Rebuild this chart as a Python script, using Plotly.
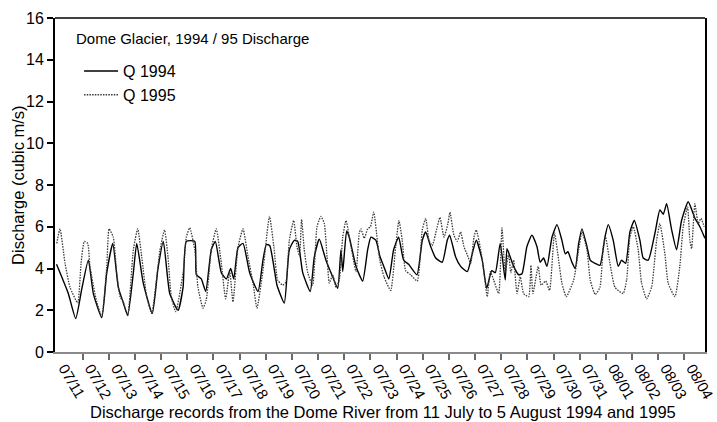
import plotly.graph_objects as go

# Hours since 11 July 00:00
t_1994 = [0, 10.8, 17.6, 23.1, 29.2, 33.8, 41.5, 46.1, 51.6, 56.7, 61.3, 65.3, 70.5, 73.6, 79.6, 87.9,
          93.1, 98.0, 103.9, 111.5, 116.1, 119.1, 126.8, 128.3, 132.8, 136.9, 142.0, 145.7, 151.2, 155.8,
          159.8, 162.6, 166.5, 171.1, 177.2, 184.9, 189.4, 192.5, 195.6, 200.0, 202.3, 209.0, 213.6, 218.2,
          221.3, 225.9, 232.8, 236.5, 241.1, 247.2, 253.4, 258.0, 261.0, 262.6, 266.2, 268.6, 274.8, 280.9,
          285.5, 288.5, 293.1, 296.6, 300.3, 304.9, 309.3, 313.9, 318.5, 323.1, 330.7, 335.6, 338.7, 343.3,
          347.9, 353.9, 358.5, 360.7, 366.2, 370.8, 376.9, 381.4, 385.1, 390.6, 394.7, 399.3, 402.6, 407.1,
          411.7, 413.3, 416.3, 419.4, 424.0, 427.1, 431.6, 436.2, 440.8, 443.8, 446.9, 450.0, 454.6, 459.2,
          463.7, 466.8, 469.2, 472.9, 475.9, 479.1, 482.1, 486.7, 489.7, 494.0, 498.6, 503.2, 506.2, 510.8,
          515.4, 518.5, 522.2, 526.1, 530.1, 535.3, 538.3, 542.9, 549.1, 553.6, 556.7, 559.8, 564.4, 568.9,
          573.5, 579.6, 585.8, 590.3, 594.9]
q_1994 = [4.2, 2.8, 1.6, 3.0, 4.4, 2.8, 1.65, 3.8, 5.2, 3.1, 2.35, 1.75, 3.8, 5.2, 3.3, 1.85,
          4.0, 5.3, 2.8, 2.0, 3.1, 5.3, 5.3, 3.7, 3.5, 2.9, 4.9, 5.3, 3.8, 3.5,
          4.0, 3.5, 5.0, 5.2, 3.8, 2.9, 4.4, 5.15, 5.1, 3.9, 3.2, 2.35, 4.9, 5.35,
          5.3, 3.8, 2.9, 4.55, 5.4, 4.4, 3.6, 3.05, 4.9, 3.85, 5.8, 5.5, 4.1, 3.4,
          4.9, 5.5, 5.35, 4.6, 4.1, 3.5, 4.9, 5.5, 4.4, 4.2, 3.7, 5.35, 5.75, 5.05,
          4.5, 4.3, 5.35, 5.6, 4.55, 4.1, 3.85, 4.7, 5.35, 4.4, 3.05, 3.9, 3.8, 5.2,
          3.45, 4.95, 4.55, 4.1, 3.7, 3.75, 5.05, 5.6, 5.05, 4.3, 4.5, 4.1, 5.5, 6.1,
          5.35, 4.7, 4.8, 4.3, 4.0, 5.2, 5.9, 5.05, 4.4, 4.25, 4.15, 5.5, 6.1, 5.35,
          4.1, 4.4, 4.25, 5.75, 6.3, 5.35, 4.5, 4.4, 5.7, 6.8, 6.6, 7.1, 5.85, 4.9,
          6.3, 7.2, 6.4, 6.0, 5.45]

t_1995 = [0.2, 3.2, 7.8, 12.4, 19.4, 22.5, 25.5, 28.6, 30.7, 36.9, 41.5, 46.1, 48.2, 52.1, 55.2, 58.3,
          61.3, 65.3, 70.5, 74.5, 78.2, 82.7, 87.3, 95.0, 99.1, 102.3, 105.3, 109.4, 116.1, 119.1, 122.2,
          126.8, 129.8, 134.4, 137.4, 142.0, 146.6, 151.2, 155.2, 158.9, 161.9, 166.5, 171.1, 175.7, 180.3,
          183.9, 189.4, 195.4, 199.5, 202.9, 207.5, 210.5, 213.6, 217.6, 220.6, 222.9, 224.9, 227.3, 230.5,
          235.0, 239.0, 242.6, 245.7, 248.2, 250.3, 253.4, 256.4, 259.4, 262.6, 265.6, 270.2, 274.8, 277.8,
          279.3, 282.4, 285.5, 288.0, 291.0, 294.7, 296.6, 300.5, 306.6, 311.2, 314.2, 317.2, 320.3, 324.9,
          331.0, 335.6, 338.7, 341.7, 344.7, 349.3, 351.8, 355.5, 359.1, 361.0, 364.6, 367.7, 370.8, 373.8,
          376.9, 380.0, 383.0, 385.1, 389.2, 392.2, 395.2, 398.0, 401.1, 405.7, 408.7, 411.7, 414.8, 416.9,
          419.4, 422.5, 425.5, 428.6, 433.2, 435.3, 437.1, 442.0, 444.6, 448.8, 452.4, 456.9, 460.7, 463.7,
          467.7, 474.5, 479.1, 482.1, 486.7, 489.7, 494.3, 498.6, 501.7, 503.8, 507.8, 512.4, 519.9, 523.1,
          526.1, 529.2, 533.7, 536.8, 541.4, 546.0, 550.6, 553.6, 558.2, 561.2, 567.4, 571.9, 575.0, 579.0,
          581.1, 582.7, 585.7, 588.8, 591.3, 594.3]
q_1995 = [5.2, 5.9, 4.25, 3.1, 2.35, 4.25, 5.3, 5.2, 4.1, 2.4, 1.7, 4.1, 5.9, 5.5, 3.8, 2.65,
          2.4, 1.75, 4.9, 5.9, 4.55, 2.65, 1.85, 4.9, 5.85, 4.55, 2.65, 1.93, 3.8, 5.5, 5.95,
          4.9, 3.1, 2.1, 2.5, 4.9, 5.9, 4.25, 2.55, 3.85, 2.4, 5.0, 5.9, 4.55, 3.3,
          2.1, 3.9, 6.5, 5.0, 3.45, 3.2, 3.35, 5.35, 6.3, 5.05, 4.6, 6.35, 4.9, 3.8,
          3.2, 6.0, 6.5, 6.15, 4.55, 3.3, 3.7, 3.1, 3.45, 5.5, 6.3, 5.05, 3.85, 5.7,
          5.9, 5.45, 5.9, 6.0, 6.7, 5.2, 4.4, 3.6, 2.95, 5.05, 6.3, 5.35, 3.9, 3.7,
          3.4, 5.85, 6.4, 5.35, 5.1, 6.0, 6.45, 5.5, 6.15, 6.7, 5.6, 5.3, 5.75, 5.05,
          4.65, 4.25, 5.5, 5.85, 4.9, 3.8, 2.65, 3.85, 3.45, 2.8, 5.95, 3.8, 4.7, 3.8,
          4.4, 2.8, 3.6, 2.8, 2.65, 4.15, 2.8, 4.1, 3.2, 3.4, 2.95, 5.7, 4.4, 3.3,
          2.65, 3.45, 4.9, 5.75, 4.9, 3.45, 2.75, 3.1, 5.05, 5.5, 4.25, 3.1, 2.8, 3.45,
          5.5, 6.0, 4.9, 3.3, 2.55, 3.1, 5.35, 6.15, 4.7, 3.3, 2.65, 4.1, 6.0, 6.95,
          5.35, 4.95, 7.1, 6.15, 6.4, 6.0]

day_labels = ["07/11", "07/12", "07/13", "07/14", "07/15", "07/16", "07/17", "07/18", "07/19",
              "07/20", "07/21", "07/22", "07/23", "07/24", "07/25", "07/26", "07/27", "07/28",
              "07/29", "07/30", "07/31", "08/01", "08/02", "08/03", "08/04"]
y_ticks = [0, 2, 4, 6, 8, 10, 12, 14, 16]

FONT = "Liberation Sans, Arial, sans-serif"

fig = go.Figure()
fig.add_trace(go.Scatter(x=t_1994, y=q_1994, mode="lines", name="Q 1994",
                         line=dict(color="black", width=1.4, shape="spline", smoothing=0.5)))
fig.add_trace(go.Scatter(x=t_1995, y=q_1995, mode="lines", name="Q 1995",
                         line=dict(color="#3a3a3a", width=1.3, dash="1.5px,1.2px",
                                   shape="spline", smoothing=0.5)))

label_pos = [24 * k + 12 for k in range(len(day_labels))]
day_bounds = [24 * k for k in range(1, len(day_labels))]

fig.update_layout(
    width=717, height=422,
    margin=dict(l=55, r=12, t=18, b=70),
    paper_bgcolor="white", plot_bgcolor="white",
    font=dict(family=FONT, size=16, color="black"),
    showlegend=True,
    legend=dict(x=0.037, y=0.892, xanchor="left", yanchor="top",
                bgcolor="rgba(0,0,0,0)", font=dict(size=16), itemwidth=34,
                tracegroupgap=0, traceorder="normal"),
    annotations=[
        dict(text="Dome Glacier, 1994 / 95 Discharge", x=0.029, y=0.939,
             xref="paper", yref="paper", xanchor="left", yanchor="middle",
             showarrow=False, font=dict(size=15)),
        dict(text="Discharge (cubic m/s)", x=-0.057, y=0.5, textangle=-90,
             xref="paper", yref="paper", xanchor="center", yanchor="middle",
             showarrow=False, font=dict(size=16.5)),
        dict(text="Discharge records from the Dome River from 11 July to 5 August 1994 and 1995",
             x=0.5046, y=-0.18, xref="paper", yref="paper", xanchor="center", yanchor="middle",
             showarrow=False, font=dict(size=16.5)),
    ],
    shapes=[dict(type="line", xref="paper", yref="paper", x0=0, x1=1, y0=1, y1=1,
                 line=dict(color="black", width=1.5))],
)
fig.update_xaxes(
    range=[-1.4, 595], tickmode="array", tickvals=label_pos, ticktext=day_labels,
    tickangle=60, ticks="", showgrid=False, zeroline=False, automargin=False,
    showline=True, linecolor="#8a8a8a", linewidth=1.5,
    tickfont=dict(size=15), ticklabeloverflow="allow", ticklabelstandoff=0,
    ticklabelshift=-5,
    minor=dict(tickmode="array", tickvals=day_bounds, ticks="outside", ticklen=6,
               tickcolor="#6a6a6a", tickwidth=1.5, showgrid=False),
)
fig.update_yaxes(
    range=[0, 16], tickmode="array", tickvals=y_ticks, ticks="outside", ticklen=6,
    tickcolor="black", tickwidth=1.5, showgrid=False, zeroline=False, automargin=False,
    showline=True, linecolor="black", linewidth=2, mirror=True,
    tickfont=dict(size=16),
)

fig.write_html("out.html", config={"displayModeBar": False},
               post_script="document.body.style.margin='0px';")
